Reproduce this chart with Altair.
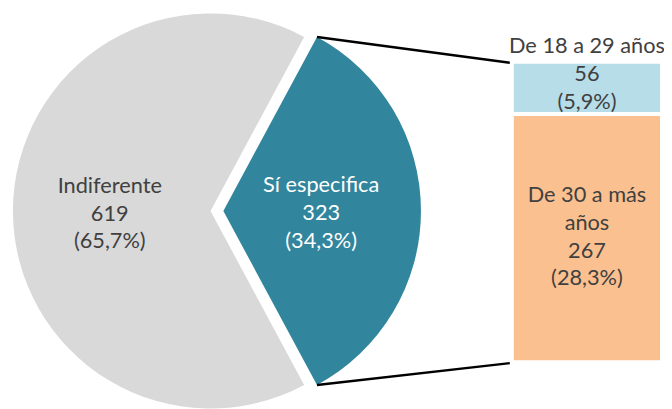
import math
import altair as alt
import pandas as pd

# ---- data ----
pie_categories = ["Sí especifica", "Indiferente"]
pie_values = [323, 619]
pie_pcts = ["34,3%", "65,7%"]

bar_categories = ["De 30 a más años", "De 18 a 29 años"]
bar_name_lines = ["De 30 a más\naños", ""]   # name shown inside the segment
bar_values = [267, 56]
bar_pcts = ["28,3%", "5,9%"]

pie_colors = ["#31859C", "#D9D9D9"]
bar_colors = ["#FAC090", "#B7DEE8"]

FONT = "Lato"
FS = 22
LH = 28
TXT = "#404040"

total = sum(pie_values)
share = pie_values[0] / total
start = math.pi / 2 - math.pi * share
theta_scale = alt.Scale(domain=[0, total], range=[start, start + 2 * math.pi])

R = 200
CY = 203
CX_GRAY = 205
CX_TEAL = 218

pie_df = pd.DataFrame({
    "cat": pie_categories,
    "value": pie_values,
    "order": list(range(len(pie_values))),
    "label": [f"{c}\n{v}\n({p})" for c, v, p in zip(pie_categories, pie_values, pie_pcts)],
})

bar_df = pd.DataFrame({
    "cat": bar_categories,
    "value": bar_values,
    "order": list(range(len(bar_values))),
    "label": [(n + "\n" if n else "") + f"{v}\n({p})" for n, v, p in zip(bar_name_lines, bar_values, bar_pcts)],
    "dy": [-43, -14],
})

pie_base = alt.Chart(pie_df).transform_window(
    cum="sum(value)", sort=[{"field": "order"}], frame=[None, 0]
).transform_calculate(
    v0="datum.cum - datum.value", mid="datum.cum - datum.value / 2"
)

pie_color = alt.Color("cat:N", scale=alt.Scale(domain=pie_categories, range=pie_colors), legend=None)

gray_arc = pie_base.transform_filter(alt.datum.cat == pie_categories[1]).mark_arc(radius=R).encode(
    theta=alt.Theta("v0:Q", scale=theta_scale),
    theta2="cum:Q",
    color=pie_color,
    x=alt.value(CX_GRAY), y=alt.value(CY),
)
teal_arc = pie_base.transform_filter(alt.datum.cat == pie_categories[0]).mark_arc(radius=R).encode(
    theta=alt.Theta("v0:Q", scale=theta_scale),
    theta2="cum:Q",
    color=pie_color,
    x=alt.value(CX_TEAL), y=alt.value(CY),
)

gray_txt = pie_base.transform_filter(alt.datum.cat == pie_categories[1]).mark_text(
    radius=102, font=FONT, fontSize=FS, lineBreak="\n", lineHeight=LH, color=TXT,
    align="center", baseline="middle", dy=-25
).encode(theta=alt.Theta("mid:Q", scale=theta_scale), text="label:N",
         x=alt.value(CX_GRAY), y=alt.value(CY))
teal_txt = pie_base.transform_filter(alt.datum.cat == pie_categories[0]).mark_text(
    radius=99, font=FONT, fontSize=FS, lineBreak="\n", lineHeight=LH, color="white",
    align="center", baseline="middle", dy=-26
).encode(theta=alt.Theta("mid:Q", scale=theta_scale), text="label:N",
         x=alt.value(CX_TEAL), y=alt.value(CY))

# ---- bar ----
BAR_TOP, BAR_BOT = 52, 356
y_scale = alt.Scale(domain=[0, sum(bar_values)], range=[BAR_BOT, BAR_TOP], nice=False, zero=True)
bar_base = alt.Chart(bar_df).transform_window(
    cum="sum(value)", sort=[{"field": "order"}], frame=[None, 0]
).transform_calculate(v0="datum.cum - datum.value", mid="datum.cum - datum.value / 2")

bars = bar_base.mark_bar(stroke="white", strokeWidth=4).encode(
    y=alt.Y("v0:Q", scale=y_scale, axis=None),
    y2="cum:Q",
    x=alt.value(510), x2=alt.value(662),
    color=alt.Color("cat:N", scale=alt.Scale(domain=bar_categories, range=bar_colors), legend=None),
)
bar_txt_top = bar_base.transform_filter(alt.datum.order == 1).mark_text(
    font=FONT, fontSize=FS, lineBreak="\n", lineHeight=LH, color=TXT,
    align="center", baseline="middle", dy=-14
).encode(y=alt.Y("mid:Q", scale=y_scale, axis=None), x=alt.value(586), text="label:N")
bar_txt_bot = bar_base.transform_filter(alt.datum.order == 0).mark_text(
    font=FONT, fontSize=FS, lineBreak="\n", lineHeight=LH, color=TXT,
    align="center", baseline="middle", dy=-43
).encode(y=alt.Y("mid:Q", scale=y_scale, axis=None), x=alt.value(586), text="label:N")

top_name = alt.Chart(pd.DataFrame({"name": [bar_categories[1]]})).mark_text(
    font=FONT, fontSize=FS, color=TXT, align="center", baseline="middle", dy=-16
).encode(y=alt.datum(sum(bar_values)), x=alt.value(586), text="name:N")

# ---- connector lines ----
a0 = start
a1 = start + 2 * math.pi * share
tx0, ty0 = CX_TEAL + R * math.sin(a0), CY - R * math.cos(a0)
tx1, ty1 = CX_TEAL + R * math.sin(a1), CY - R * math.cos(a1)
one = pd.DataFrame({"k": [0]})
line_top = alt.Chart(one).mark_rule(color="black", strokeWidth=2.5).encode(
    x=alt.value(tx0), y=alt.value(ty0), x2=alt.value(508), y2=alt.value(BAR_TOP + 1))
line_bot = alt.Chart(one).mark_rule(color="black", strokeWidth=2.5).encode(
    x=alt.value(tx1), y=alt.value(ty1), x2=alt.value(508), y2=alt.value(BAR_BOT + 1))

chart = alt.layer(
    gray_arc, teal_arc, line_top, line_bot, bars, gray_txt, teal_txt, bar_txt_top, bar_txt_bot, top_name
).resolve_scale(color="independent").properties(
    width=664, height=401, autosize=alt.AutoSizeParams(type="none"), padding=0
).configure_view(stroke=None)

chart.save("out.html", embed_options={"renderer": "svg", "actions": False})
